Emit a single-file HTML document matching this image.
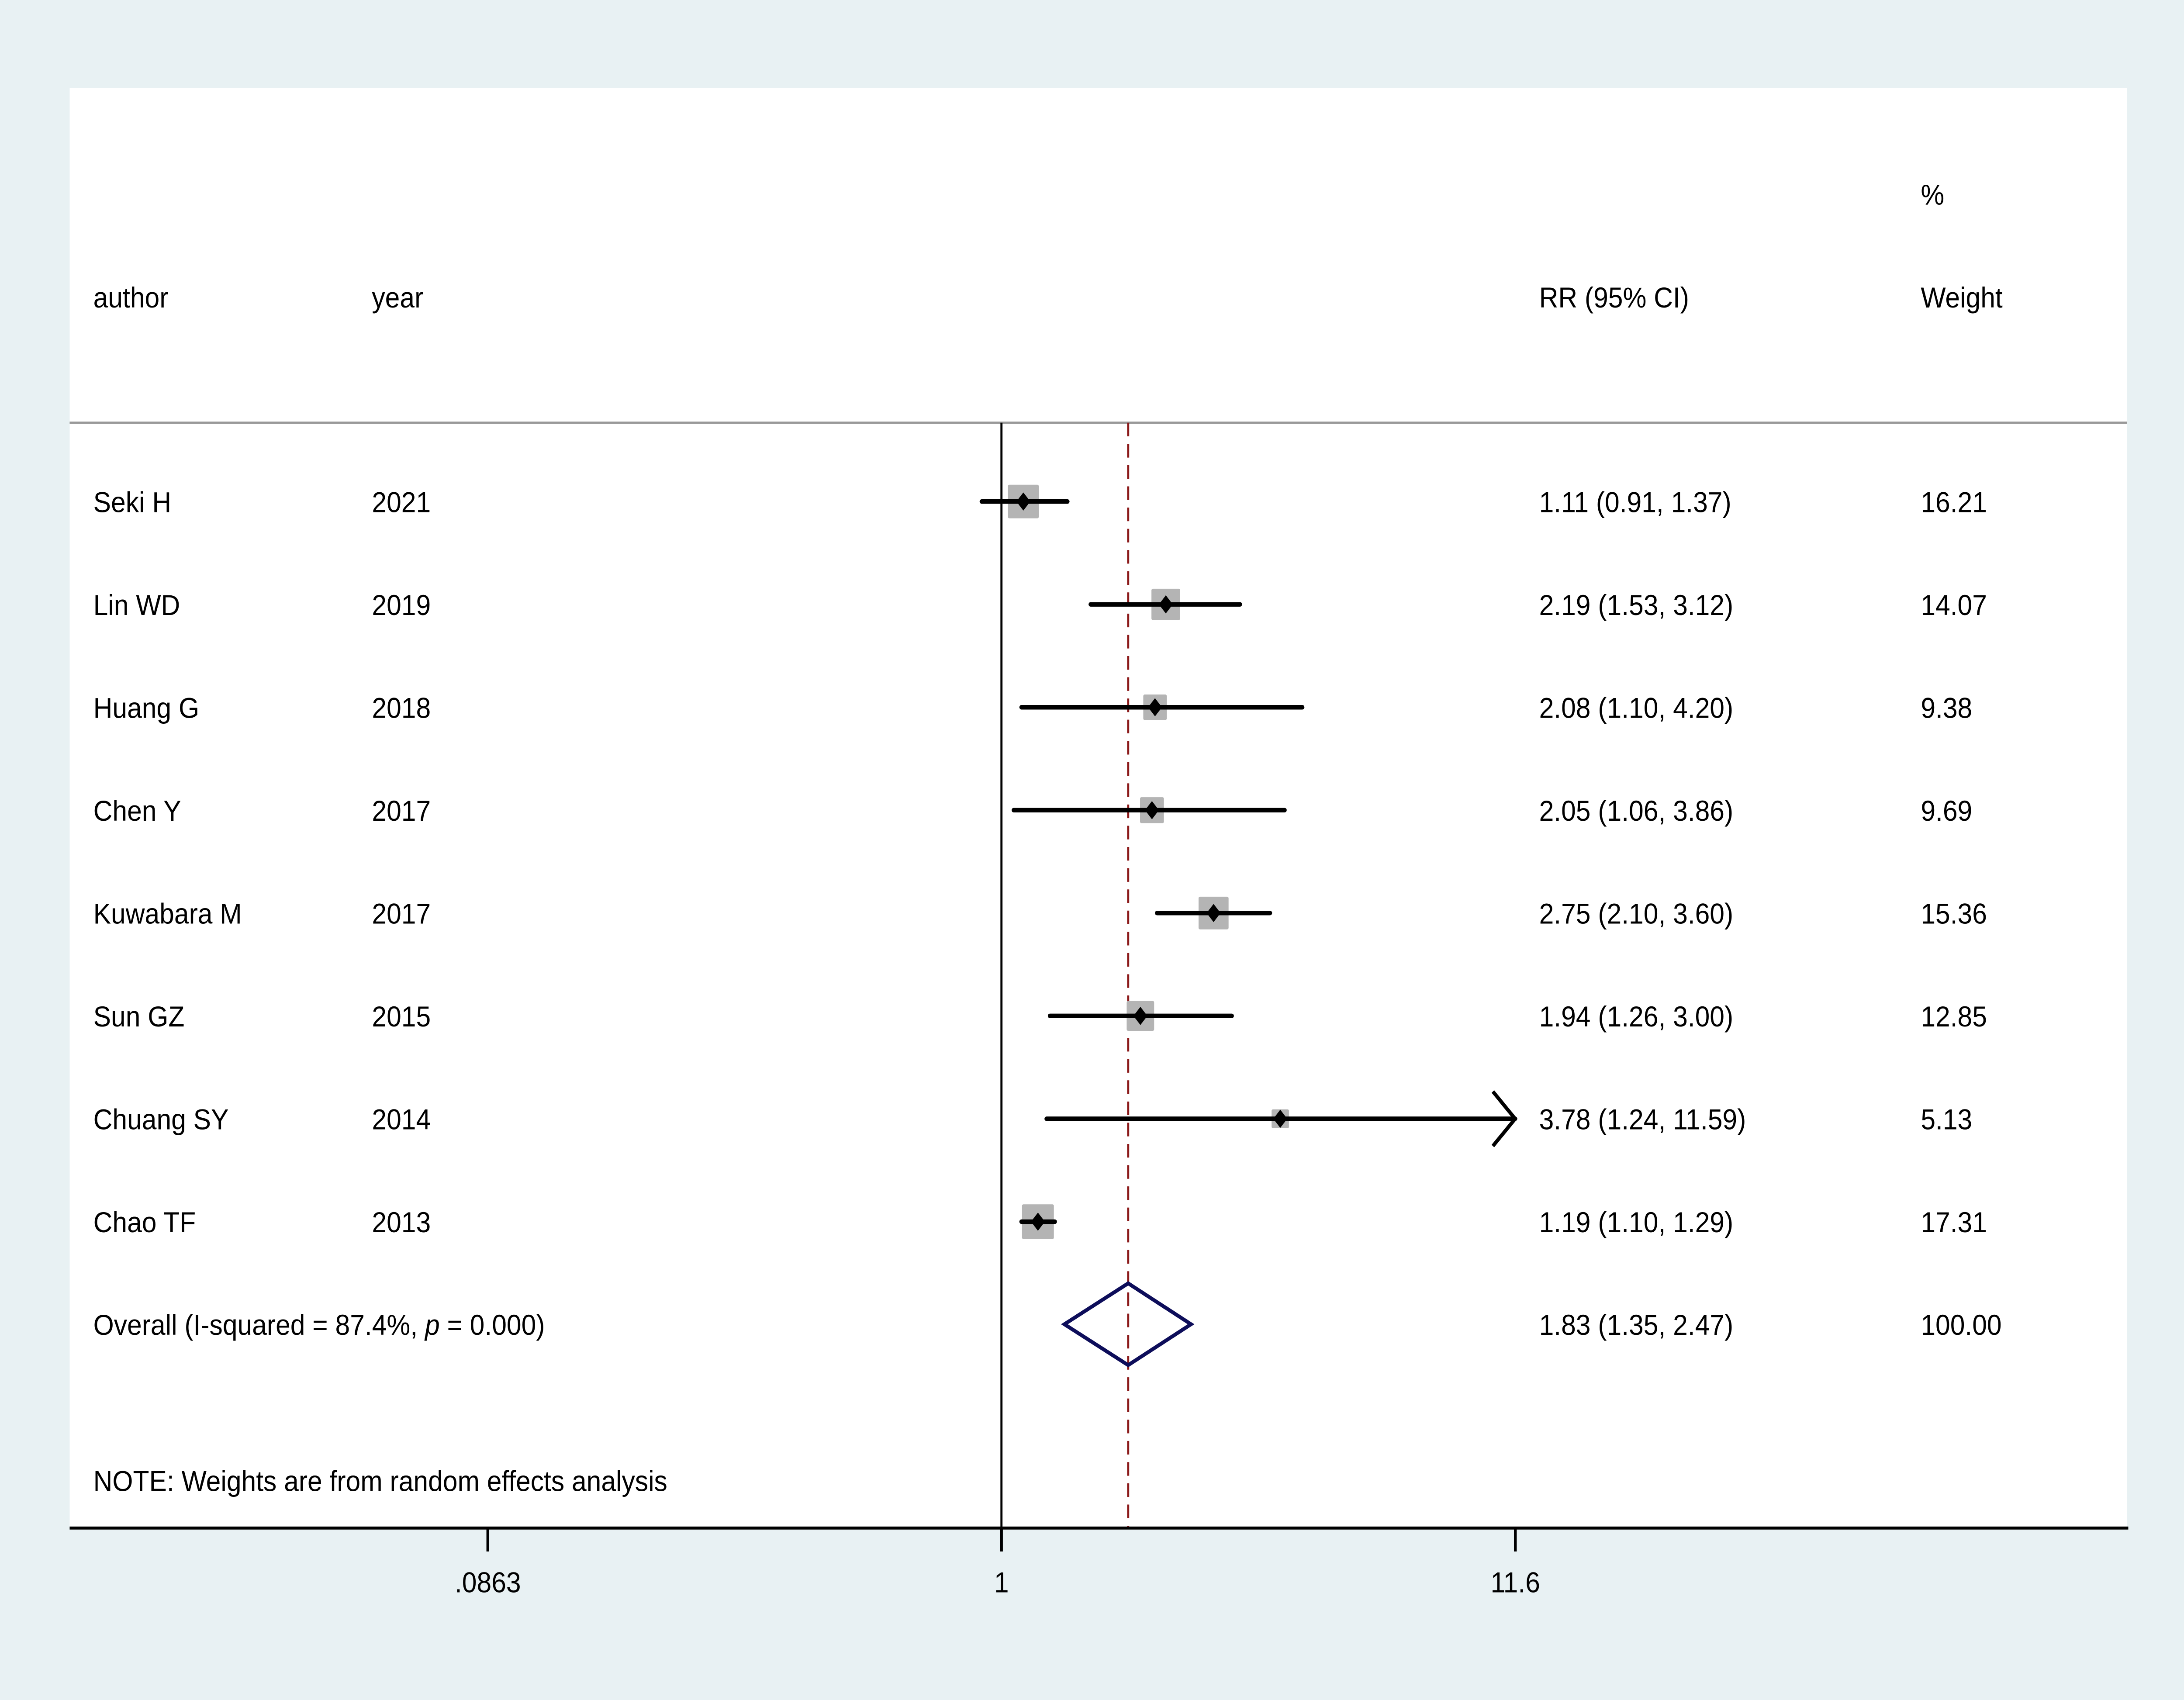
<!DOCTYPE html>
<html><head><meta charset="utf-8"><style>
html,body{margin:0;padding:0;background:#e8f1f3;overflow:hidden;width:100%;height:100%;}
svg{display:block;position:absolute;left:0;top:0;width:100vw;height:100vh;}
text{font-family:"Liberation Sans",Arial,sans-serif;font-size:19px;fill:#000;}
</style></head><body>
<svg id="chart" viewBox="0 0 1568 1122" preserveAspectRatio="none" xmlns="http://www.w3.org/2000/svg">
<rect x="0" y="0" width="1568" height="1122" fill="#e8f1f3"/>
<rect x="50" y="58" width="1477" height="951" fill="#ffffff"/>
<line x1="50" y1="279" x2="1527" y2="279" stroke="#999" stroke-width="1.5"/>
<text x="1379" y="135">%</text>
<text x="67" y="203">author</text>
<text x="267" y="203">year</text>
<text x="1105" y="203">RR (95% CI)</text>
<text x="1379" y="203">Weight</text>
<g id="marks"></g>
<text x="67" y="984">NOTE: Weights are from random effects analysis</text>
<line x1="50" y1="1008.5" x2="1528" y2="1008.5" stroke="#000" stroke-width="2"/>
<g id="ticks"></g>
</svg>
<script>
const authors=["Seki H","Lin WD","Huang G","Chen Y","Kuwabara M","Sun GZ","Chuang SY","Chao TF"];
const years=["2021","2019","2018","2017","2017","2015","2014","2013"];
const rr=[1.11,2.19,2.08,2.05,2.75,1.94,3.78,1.19];
const lo=[0.91,1.53,1.10,1.06,2.10,1.26,1.24,1.10];
const hi=[1.37,3.12,4.20,3.86,3.60,3.00,11.59,1.29];
const weights=[16.21,14.07,9.38,9.69,15.36,12.85,5.13,17.31];
const ciText=["1.11 (0.91, 1.37)","2.19 (1.53, 3.12)","2.08 (1.10, 4.20)","2.05 (1.06, 3.86)","2.75 (2.10, 3.60)","1.94 (1.26, 3.00)","3.78 (1.24, 11.59)","1.19 (1.10, 1.29)"];
const weightText=["16.21","14.07","9.38","9.69","15.36","12.85","5.13","17.31"];
const overall=[1.83,1.35,2.47];
const tickVals=[0.0863,1,11.6];
const tickLabels=[".0863","1","11.6"];
const xMin=0.0863, xMax=11.6;

const NS="http://www.w3.org/2000/svg";
function x(v){return 719+Math.log10(v)*346.6;}
function rowY(i){return 331+i*67.9;}
function mk(tag,attrs,parent){const e=document.createElementNS(NS,tag);for(const k in attrs)e.setAttribute(k,attrs[k]);parent.appendChild(e);return e;}
const g=document.getElementById('marks');
let nl=mk('line',{x1:x(1),y1:279,x2:x(1),y2:1008,stroke:'#000','stroke-width':1.5},g);


let dl=mk('line',{x1:x(overall[0]),y1:279,x2:x(overall[0]),y2:1008,stroke:'#8b1a1a','stroke-width':1.5,'stroke-dasharray':'9,5'},g);


for(let i=0;i<authors.length;i++){
  const y=rowY(i);
  const s=5.5*Math.sqrt(weights[i]);
  const b=mk('rect',{x:x(rr[i])-s/2,y:y-s/2,width:s,height:s,fill:'#b4b4b4',rx:1},g);
  
  
  const up=Math.min(hi[i],xMax);
  const l=mk('line',{x1:x(lo[i]),y1:y,x2:x(up),y2:y,stroke:'#000','stroke-width':3,'stroke-linecap':'round'},g);
  
  
  if(x(hi[i])>=x(xMax)-2){
    const a=mk('polyline',{points:(x(up)-16)+','+(y-18)+' '+x(up)+','+y+' '+(x(up)-16)+','+(y+18),fill:'none',stroke:'#000','stroke-width':2.5},g);
    
    
  }
  const px=x(rr[i]);
  const d=mk('polygon',{points:(px-5)+','+y+' '+px+','+(y-6)+' '+(px+5)+','+y+' '+px+','+(y+6),fill:'#000'},g);
  
  
  const cols=[[67,authors[i],'author-label'],[267,years[i],'year-label'],[1105,ciText[i],'rr-value'],[1379,weightText[i],'weight-value']];
  for(const c of cols){const t=mk('text',{x:c[0],y:y+7},g);t.textContent=c[1];
    
    }
}
const oy=874;
const dm=mk('polygon',{points:x(overall[1])+','+oy+' '+x(overall[0])+','+(oy-27)+' '+x(overall[2])+','+oy+' '+x(overall[0])+','+(oy+27),fill:'none',stroke:'#0d0d5a','stroke-width':2.5},g);


const ot=mk('text',{x:67,y:oy+7,'xml:space':'preserve'},g);
ot.innerHTML='Overall  (I-squared = 87.4%, <tspan font-style="italic">p</tspan> = 0.000)';


const ov=mk('text',{x:1105,y:oy+7},g);ov.textContent='1.83 (1.35, 2.47)';


const ow=mk('text',{x:1379,y:oy+7},g);ow.textContent='100.00';


const tg=document.getElementById('ticks');
for(let i=0;i<tickVals.length;i++){
  const tx=x(tickVals[i]);
  const tk=mk('line',{x1:tx,y1:1008,x2:tx,y2:1024,stroke:'#000','stroke-width':2},tg);
  
  
  const tl=mk('text',{x:tx,y:1051,'text-anchor':'middle'},tg);tl.textContent=tickLabels[i];
  
  
}
</script>
</body></html>
